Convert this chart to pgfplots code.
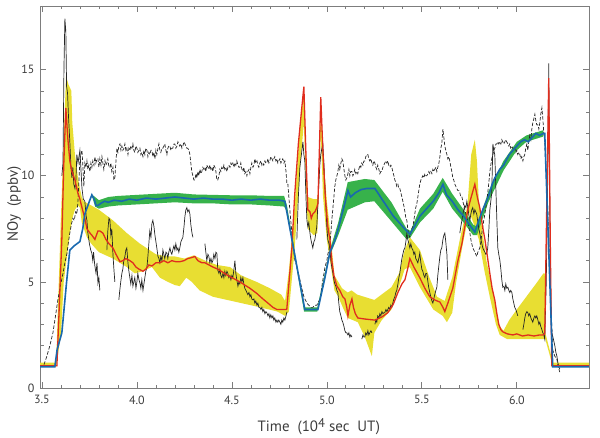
\documentclass[border=0pt]{standalone}
\usepackage{pgfplots}
\pgfplotsset{compat=1.18}
\usepgfplotslibrary{fillbetween}
\usepackage{fontspec}
\setmainfont{PT Sans}
\definecolor{redl}{RGB}{224,45,30}
\definecolor{bluel}{RGB}{25,105,175}
\definecolor{greenb}{RGB}{55,178,75}
\definecolor{yellowb}{RGB}{232,222,50}
\definecolor{axgray}{RGB}{125,125,125}
\definecolor{txtgray}{RGB}{60,60,60}
\begin{document}
\begin{tikzpicture}
\begin{axis}[
  scale only axis, width=549bp, height=382bp,
  xmin=3.49, xmax=6.38, ymin=0, ymax=18,
  axis line style={draw=axgray, line width=0.8bp},
  xtick={3.5,4,4.5,5,5.5,6}, minor x tick num=4,
  ytick={0,5,10,15}, minor y tick num=4,
  tick align=inside, major tick length=6bp, minor tick length=3.5bp,
  every tick/.style={axgray, line width=0.7bp},
  x tick label style={/pgf/number format/fixed, /pgf/number format/fixed zerofill, /pgf/number format/precision=1, yshift=-4bp},
  y tick label style={xshift=-2bp},
  /pgf/number format/assume math mode=true,
  tick label style={font=\fontsize{12}{14}\selectfont, text=txtgray},
  label style={font=\fontsize{15}{18}\selectfont, text=txtgray},
  xlabel={Time\ \ (10\raisebox{0.45ex}{\scalebox{0.85}{4}} sec\ \ UT)},
  ylabel={NOy\ \ (ppbv)},
  xlabel style={at={(axis description cs:0.508,-0.1126)}, anchor=base},
  ylabel style={at={(axis description cs:-0.047,0.482)}, anchor=center},
  unbounded coords=jump,
]
% yellow band
\addplot[draw=none, name path=yu, forget plot] coordinates {
(3.490,1.2)(3.575,1.2)(3.600,8.0)(3.627,14.7)(3.640,14.3)(3.655,14.0)(3.660,12.5)(3.674,11.0)(3.690,9.9)(3.700,9.4)(3.710,9.0)(3.720,8.8)(3.760,8.6)(3.800,8.4)(3.874,7.9)(3.947,7.3)(4.016,6.8)(4.050,6.6)(4.100,6.3)(4.160,6.2)(4.200,6.2)(4.250,6.1)(4.300,6.25)(4.360,6.0)(4.420,5.8)(4.490,5.7)(4.550,5.3)(4.630,5.0)(4.700,4.7)(4.760,4.4)(4.780,4.1)(4.800,5.5)(4.830,8.5)(4.860,12.5)(4.879,13.8)(4.890,11.0)(4.900,9.0)(4.930,8.9)(4.950,8.9)(4.960,10.0)(4.968,13.5)(4.980,11.0)(5.000,8.8)(5.016,7.5)(5.040,5.3)(5.080,4.7)(5.110,4.5)(5.130,4.6)(5.160,4.4)(5.250,4.15)(5.340,4.75)(5.380,5.4)(5.410,6.5)(5.437,7.1)(5.490,6.5)(5.540,5.2)(5.580,4.3)(5.620,4.1)(5.660,5.2)(5.700,7.0)(5.740,8.6)(5.760,11.0)(5.779,11.7)(5.790,10.7)(5.800,8.8)(5.820,7.3)(5.840,6.0)(5.870,4.75)(5.895,3.55)(5.910,2.9)(5.930,2.7)(5.960,3.2)(6.000,3.7)(6.050,4.3)(6.100,4.9)(6.140,5.4)(6.147,5.4)(6.150,2.6)(6.190,1.2)(6.380,1.2)};
\addplot[draw=none, name path=yl, forget plot] coordinates {
(3.490,1.0)(3.575,1.0)(3.600,2.5)(3.615,5.0)(3.647,7.3)(3.660,8.0)(3.674,8.4)(3.690,8.6)(3.700,8.5)(3.710,7.8)(3.737,7.1)(3.760,6.8)(3.800,6.4)(3.874,6.1)(3.947,5.7)(3.989,5.4)(4.030,5.5)(4.079,5.7)(4.121,5.2)(4.163,5.0)(4.200,4.85)(4.226,4.8)(4.260,5.2)(4.289,5.0)(4.330,4.6)(4.400,4.3)(4.450,4.2)(4.550,4.0)(4.650,3.8)(4.740,3.6)(4.780,3.4)(4.800,3.6)(4.830,6.5)(4.860,10.5)(4.879,12.5)(4.890,9.5)(4.900,7.5)(4.930,7.2)(4.950,7.3)(4.968,12.0)(4.980,9.0)(5.000,7.0)(5.020,5.8)(5.040,4.6)(5.060,4.3)(5.084,3.8)(5.110,3.3)(5.163,3.1)(5.200,2.4)(5.237,1.5)(5.250,2.6)(5.289,3.2)(5.340,3.7)(5.370,4.5)(5.410,5.6)(5.437,5.7)(5.490,4.75)(5.560,3.7)(5.610,3.4)(5.632,3.1)(5.660,3.55)(5.680,4.95)(5.716,6.8)(5.750,8.3)(5.779,7.6)(5.800,7.0)(5.830,5.5)(5.860,4.2)(5.890,3.0)(5.910,2.5)(5.950,2.3)(6.100,2.3)(6.150,2.3)(6.190,1.0)(6.380,1.0)};
\addplot[yellowb, forget plot] fill between[of=yu and yl];
% green band
\addplot[draw=none, name path=gu, forget plot] coordinates {
(3.765,9.1)(3.780,9.0)(3.800,8.85)(3.850,9.0)(3.900,9.05)(4.000,9.1)(4.100,9.15)(4.200,9.2)(4.300,9.12)(4.400,9.1)(4.500,9.08)(4.600,9.08)(4.700,9.05)(4.775,9.05)(4.790,8.6)(4.880,3.8)(4.950,3.8)(5.016,6.5)(5.060,7.8)(5.110,9.7)(5.200,9.85)(5.250,9.8)(5.340,8.75)(5.420,7.5)(5.440,7.4)(5.490,8.45)(5.560,9.15)(5.610,9.9)(5.660,9.15)(5.720,8.4)(5.770,7.7)(5.790,7.6)(5.850,9.25)(5.930,10.7)(6.000,11.6)(6.050,11.9)(6.140,12.15)};
\addplot[draw=none, name path=gl, forget plot] coordinates {
(3.765,9.0)(3.780,8.55)(3.800,8.45)(3.850,8.55)(3.900,8.6)(4.000,8.65)(4.100,8.7)(4.200,8.75)(4.300,8.7)(4.400,8.7)(4.500,8.65)(4.600,8.65)(4.700,8.6)(4.775,8.55)(4.790,8.3)(4.880,3.6)(4.950,3.6)(5.016,6.25)(5.060,7.2)(5.110,8.4)(5.200,8.75)(5.250,8.8)(5.340,7.85)(5.420,7.0)(5.440,7.1)(5.490,7.8)(5.560,8.45)(5.610,9.25)(5.660,8.45)(5.720,7.8)(5.770,7.2)(5.790,7.2)(5.850,8.75)(5.930,10.25)(6.000,11.2)(6.050,11.6)(6.140,11.85)};
\addplot[greenb, forget plot] fill between[of=gu and gl];
% black dashed
\addplot[black!85, line width=0.7bp, dash pattern=on 3.5bp off 1.8bp] coordinates {
(3.511,1.1)(3.526,1.5)(3.542,2.0)(3.558,2.6)(3.570,3.3)(3.584,4.15)(3.597,4.8)(3.611,5.4)(3.621,5.9)(3.632,6.35)(3.640,6.9)(3.647,7.3)(3.655,7.7)(3.663,8.0)(3.670,7.9)(3.678,8.3)(3.684,8.2)(3.689,8.7)(3.695,9.8)(3.700,10.8)(3.705,11.0)(3.711,11.2)(3.716,10.4)(3.721,9.5)(3.726,10.6)(3.732,10.4)(3.737,10.7)(3.742,10.3)(3.747,10.5)(3.753,10.2)(3.758,10.6)(3.763,10.4)(3.768,10.7)(3.774,10.5)(3.779,10.9)(3.784,10.6)(3.790,10.8)(3.795,10.8)(3.800,10.4)(3.805,10.8)(3.811,10.5)(3.816,10.9)(3.821,10.6)(3.826,10.3)(3.832,10.7)(3.837,10.5)(3.842,10.6)(3.847,10.8)(3.853,10.4)(3.858,10.4)(3.863,10.6)(3.868,10.2)(3.874,10.4)(3.879,9.8)(3.884,9.9)(3.890,10.7)(3.895,11.3)(3.900,11.1)(3.905,11.4)(3.911,11.5)(3.916,11.2)(3.921,11.4)(3.926,11.2)(3.932,11.3)(3.937,11.5)(3.942,11.2)(3.947,11.3)(3.953,11.0)(3.958,11.3)(3.963,11.2)(3.968,11.4)(3.974,11.3)(3.979,11.5)(3.984,11.2)(3.989,11.1)(3.995,11.4)(4.000,11.3)(4.005,11.1)(4.011,11.2)(4.016,11.3)(4.021,11.0)(4.026,11.1)(4.032,10.9)(4.037,11.2)(4.042,11.0)(4.047,11.3)(4.053,11.2)(4.058,10.9)(4.063,11.1)(4.068,11.0)(4.074,11.2)(4.079,11.2)(4.084,10.9)(4.090,11.1)(4.095,10.8)(4.100,11.2)(4.105,11.0)(4.111,11.3)(4.116,11.5)(4.121,11.2)(4.126,11.1)(4.132,11.3)(4.137,11.3)(4.142,11.4)(4.147,11.5)(4.153,11.2)(4.158,11.0)(4.163,11.3)(4.168,11.4)(4.174,11.4)(4.179,11.2)(4.184,11.3)(4.189,11.3)(4.195,11.5)(4.200,11.5)(4.205,11.3)(4.211,11.4)(4.216,11.6)(4.221,11.5)(4.226,11.4)(4.232,11.5)(4.237,11.3)(4.242,11.4)(4.248,11.6)(4.253,11.5)(4.258,11.4)(4.263,11.3)(4.268,11.3)(4.274,11.2)(4.279,11.0)(4.284,10.6)(4.289,10.2)(4.295,10.0)(4.300,9.8)(4.305,9.8)(4.311,10.1)(4.316,9.9)(4.321,10.2)(4.326,10.0)(4.332,10.3)(4.337,10.1)(4.342,10.2)(4.347,10.4)(4.353,10.3)(4.358,10.4)(4.363,10.2)(4.368,10.5)(4.374,10.4)(4.379,10.3)(4.384,10.5)(4.390,10.3)(4.395,10.4)(4.400,10.2)(4.405,10.5)(4.411,10.4)(4.416,10.2)(4.421,9.8)(4.426,9.8)(4.432,10.0)(4.437,10.3)(4.442,10.2)(4.447,10.4)(4.453,10.3)(4.458,10.5)(4.463,10.3)(4.468,10.4)(4.474,10.2)(4.479,10.4)(4.484,10.5)(4.490,10.4)(4.495,10.6)(4.500,10.5)(4.505,10.6)(4.511,10.4)(4.516,10.6)(4.521,10.5)(4.526,10.7)(4.532,10.5)(4.537,10.4)(4.542,10.4)(4.547,10.6)(4.553,10.3)(4.558,10.2)(4.563,10.4)(4.568,10.1)(4.574,10.2)(4.579,10.0)(4.584,10.2)(4.590,10.3)(4.595,10.1)(4.600,10.4)(4.605,10.6)(4.611,10.4)(4.616,10.5)(4.621,10.8)(4.626,10.6)(4.632,10.7)(4.637,10.5)(4.642,10.4)(4.647,10.6)(4.653,10.7)(4.658,10.5)(4.663,10.6)(4.668,10.5)(4.674,10.7)(4.679,10.6)(4.684,10.6)(4.690,10.8)(4.695,10.6)(4.700,10.7)(4.705,10.9)(4.711,10.8)(4.716,10.7)(4.721,10.8)(4.726,10.9)(4.732,10.7)(4.737,10.8)(4.742,10.6)(4.747,10.7)(4.753,10.8)(4.758,10.6)(4.763,10.7)(4.768,10.8)(4.774,10.6)(4.779,10.7)(4.785,10.2)(4.790,9.6)(4.795,9.6)(4.800,9.0)(4.805,8.4)(4.811,7.8)(4.816,7.3)(4.821,6.8)(4.826,6.4)(4.832,6.0)(4.837,5.9)(4.842,5.7)(4.847,5.5)(4.853,5.3)(4.858,5.1)(4.863,4.9)(4.868,4.7)(4.874,4.5)(4.879,4.3)(4.884,4.2)(4.890,4.1)(4.895,4.0)(4.905,3.9)(4.916,3.8)(4.926,3.8)(4.937,3.9)(4.947,3.9)(4.953,4.0)(4.958,4.1)(4.963,4.15)(4.968,4.4)(4.974,4.8)(4.979,5.1)(4.985,5.4)(4.990,5.7)(5.000,6.0)(5.005,6.3)(5.011,6.5)(5.016,6.8)(5.021,7.3)(5.026,7.9)(5.032,8.5)(5.037,9.0)(5.042,9.5)(5.047,9.8)(5.053,10.0)(5.058,10.2)(5.063,10.5)(5.068,10.3)(5.074,10.6)(5.079,10.8)(5.084,10.7)(5.090,10.3)(5.095,10.0)(5.100,9.8)(5.105,9.9)(5.111,10.1)(5.116,10.3)(5.121,10.0)(5.126,10.2)(5.132,10.2)(5.137,10.0)(5.142,10.1)(5.147,10.3)(5.153,10.1)(5.158,10.2)(5.163,10.1)(5.168,10.3)(5.174,10.5)(5.179,10.4)(5.184,10.6)(5.190,10.5)(5.195,10.7)(5.200,10.7)(5.205,10.9)(5.211,11.0)(5.216,11.0)(5.221,10.8)(5.226,10.7)(5.232,10.8)(5.237,10.6)(5.242,10.5)(5.247,10.7)(5.253,10.6)(5.258,10.4)(5.263,10.3)(5.268,10.5)(5.274,10.3)(5.279,10.1)(5.284,10.2)(5.289,10.2)(5.295,10.4)(5.300,10.5)(5.305,10.6)(5.311,10.7)(5.316,10.6)(5.321,10.7)(5.326,10.5)(5.332,10.4)(5.337,10.5)(5.342,10.4)(5.347,10.2)(5.353,10.0)(5.358,9.8)(5.363,9.7)(5.368,9.5)(5.374,9.6)(5.379,9.4)(5.384,9.4)(5.390,9.2)(5.395,9.0)(5.400,8.8)(5.405,8.6)(5.411,8.3)(5.416,8.0)(5.421,7.9)(5.426,7.5)(5.432,7.2)(5.437,7.1)(5.442,7.3)(5.447,7.5)(5.453,7.6)(5.458,7.9)(5.463,8.2)(5.468,8.5)(5.474,8.7)(5.479,9.0)(5.484,9.3)(5.489,9.6)(5.495,9.8)(5.500,9.9)(5.505,10.0)(5.511,9.9)(5.516,10.1)(5.521,10.0)(5.526,10.0)(5.532,10.1)(5.537,10.2)(5.542,10.1)(5.547,10.2)(5.553,10.1)(5.558,10.3)(5.563,10.2)(5.568,10.3)(5.574,10.4)(5.579,10.2)(5.584,10.4)(5.590,10.6)(5.595,10.9)(5.600,11.3)(5.605,11.5)(5.611,12.2)(5.616,11.8)(5.621,11.4)(5.626,11.2)(5.632,11.0)(5.637,10.8)(5.642,10.9)(5.647,10.7)(5.653,10.4)(5.658,10.2)(5.663,9.9)(5.668,9.8)(5.674,9.6)(5.679,9.5)(5.684,9.4)(5.690,9.3)(5.695,9.3)(5.700,9.2)(5.705,9.0)(5.711,9.0)(5.716,8.8)(5.721,8.6)(5.726,8.4)(5.732,8.2)(5.737,8.0)(5.742,7.9)(5.747,7.6)(5.753,7.3)(5.758,7.0)(5.763,6.8)(5.768,6.6)(5.774,6.5)(5.779,6.4)(5.784,6.3)(5.789,6.2)(5.795,6.4)(5.800,6.5)(5.805,6.6)(5.811,6.9)(5.816,7.3)(5.821,7.6)(5.826,7.9)(5.832,8.2)(5.837,8.5)(5.842,8.8)(5.847,9.2)(5.853,9.7)(5.858,10.2)(5.863,10.5)(5.868,10.8)(5.874,11.0)(5.879,11.2)(5.884,11.3)(5.890,11.5)(5.895,11.5)(5.900,11.6)(5.905,11.5)(5.911,11.6)(5.916,11.5)(5.921,11.7)(5.926,11.6)(5.932,11.5)(5.937,11.6)(5.942,11.7)(5.947,11.6)(5.953,11.5)(5.958,11.4)(5.963,11.5)(5.968,11.3)(5.974,11.4)(5.979,11.3)(5.984,11.2)(5.989,11.3)(5.995,11.1)(6.000,11.2)(6.005,11.0)(6.011,11.1)(6.016,11.0)(6.021,10.8)(6.026,10.9)(6.032,10.7)(6.037,10.9)(6.042,11.0)(6.047,11.3)(6.053,11.5)(6.058,11.2)(6.063,11.6)(6.068,11.9)(6.074,11.7)(6.079,12.2)(6.084,12.5)(6.090,12.7)(6.095,12.9)(6.100,12.6)(6.105,12.4)(6.111,12.4)(6.116,12.2)(6.121,12.5)(6.126,12.9)(6.132,13.2)(6.137,12.7)(6.142,12.0)(6.147,11.6)(6.152,10.5)(6.158,9.5)(6.163,8.5)(6.168,7.0)(6.174,5.4)(6.179,4.0)(6.184,2.9)(6.189,1.8)(6.200,1.5)(6.211,1.35)(6.218,1.0)(6.226,0.75)};
% black solid
\addplot[black!85, line width=0.7bp] coordinates {
(3.605,10.0)(3.611,10.6)(3.616,15.0)(3.621,17.4)(3.626,16.8)(3.630,14.2)(3.635,13.9)(3.640,12.8)(3.647,11.6)(3.653,10.4)(3.658,9.9)(3.663,10.4)(3.668,9.6)(3.674,9.4)(3.679,9.8)(3.684,11.0)(3.690,10.6)(3.700,11.2)(3.705,10.4)(3.711,9.4)(3.718,8.9)(3.726,8.8)(3.733,8.1)(3.737,7.9)(3.742,7.3)(3.750,6.8)(3.757,6.5)(3.763,6.35)(3.768,6.0)(3.772,6.4)(3.778,5.8)(3.785,5.4)(3.790,5.9)(3.795,4.95)(3.800,5.2)(3.805,4.6)
(3.810,nan)
(3.842,6.5)(3.847,7.4)(3.853,8.0)(3.858,7.9)(3.863,7.2)(3.868,7.5)(3.874,6.3)(3.879,5.6)(3.884,5.0)
(3.890,nan)
(3.905,4.15)(3.910,4.6)(3.915,5.0)(3.921,5.4)(3.926,5.6)(3.931,6.0)(3.937,6.2)(3.942,6.5)(3.947,6.6)(3.953,5.9)(3.958,5.5)(3.963,5.2)(3.968,4.9)(3.974,5.3)(3.979,4.8)(3.984,5.0)(3.989,5.2)(3.995,4.7)(4.000,5.0)(4.005,5.4)(4.011,5.1)(4.016,4.95)(4.021,4.7)(4.026,5.1)(4.032,4.6)(4.037,4.9)(4.042,5.2)(4.047,5.5)(4.053,5.7)(4.058,6.2)(4.063,6.8)(4.068,7.4)(4.074,7.1)(4.079,7.75)(4.084,7.9)(4.090,7.6)(4.095,7.2)(4.100,6.9)(4.105,6.6)(4.111,6.2)(4.116,6.1)(4.121,5.9)(4.126,6.2)(4.132,6.0)(4.137,6.5)(4.142,6.3)(4.147,6.1)(4.153,6.4)(4.158,6.35)(4.163,6.1)(4.168,6.4)(4.174,6.6)(4.179,6.4)(4.184,6.3)(4.189,6.5)(4.195,6.7)(4.200,6.5)(4.205,6.8)(4.211,6.5)(4.216,6.6)(4.221,6.4)(4.226,6.6)(4.232,6.9)(4.237,7.0)(4.242,7.1)(4.248,7.6)(4.253,8.1)(4.258,8.4)(4.263,8.5)(4.268,8.3)(4.274,8.4)(4.279,8.2)(4.284,7.7)(4.290,7.3)(4.295,7.1)
(4.300,nan)
(4.358,6.8)(4.363,6.4)(4.368,6.0)(4.374,6.3)(4.379,6.2)(4.384,5.9)(4.390,6.1)(4.395,5.9)(4.400,6.0)(4.405,6.3)(4.411,6.1)(4.416,6.4)(4.421,6.35)(4.426,5.55)(4.432,5.4)(4.437,5.6)(4.442,5.3)(4.447,5.2)(4.453,5.4)(4.458,5.2)(4.463,5.5)(4.468,5.3)(4.474,5.5)(4.479,5.4)(4.484,5.2)(4.490,5.3)(4.495,5.1)(4.500,5.3)(4.505,5.2)(4.511,5.6)(4.516,6.0)(4.521,5.4)(4.526,5.1)(4.532,4.8)(4.537,5.0)(4.542,4.9)(4.547,5.2)(4.553,5.0)(4.558,5.2)(4.563,4.9)(4.568,4.7)(4.574,4.6)(4.579,4.5)(4.584,4.4)(4.590,4.5)(4.595,4.3)(4.600,4.4)(4.605,4.2)(4.611,4.15)(4.616,4.2)(4.621,4.0)(4.626,4.1)(4.632,3.9)(4.637,4.0)(4.642,3.8)(4.647,3.8)(4.653,3.7)(4.658,3.8)(4.663,3.6)(4.668,3.7)(4.674,3.5)(4.679,3.6)(4.684,3.55)(4.690,3.4)(4.695,3.5)(4.700,3.3)(4.705,3.45)(4.711,3.3)(4.716,3.4)(4.721,3.2)(4.726,3.3)(4.732,3.1)(4.737,3.2)(4.742,3.1)(4.747,3.2)(4.753,3.1)(4.758,3.0)(4.763,3.2)(4.768,3.1)(4.774,3.3)(4.779,3.2)(4.785,3.4)(4.790,3.6)
(4.800,nan)
(4.842,7.0)(4.850,9.0)(4.858,10.4)(4.866,11.0)(4.874,11.6)(4.879,11.0)(4.884,10.7)(4.890,9.0)(4.895,7.9)(4.900,7.6)(4.905,7.8)(4.911,7.3)(4.916,7.0)(4.921,6.8)(4.926,6.6)(4.932,6.9)(4.937,7.0)(4.942,7.3)(4.947,7.6)(4.953,8.7)(4.958,9.6)(4.963,10.5)(4.968,11.0)(4.974,11.3)(4.979,11.5)(4.985,10.5)(4.990,9.5)(4.995,8.5)(5.000,7.6)(5.005,7.0)(5.011,6.8)(5.016,6.6)(5.021,6.0)(5.026,5.7)(5.032,5.4)(5.037,5.1)(5.042,4.9)(5.047,4.8)(5.053,4.6)(5.058,4.5)(5.063,4.0)(5.068,3.6)(5.074,3.4)(5.079,3.2)(5.084,3.1)(5.090,2.9)(5.095,2.7)(5.100,2.6)(5.105,2.6)(5.111,2.5)(5.116,2.6)(5.121,2.4)(5.126,2.5)(5.132,2.4)
(5.150,nan)
(5.184,2.3)(5.190,2.5)(5.195,2.4)(5.200,2.4)(5.205,2.6)(5.211,2.5)(5.216,2.7)(5.221,2.5)(5.226,2.6)(5.232,2.7)(5.237,2.6)
(5.245,nan)
(5.253,3.0)(5.258,3.2)(5.263,3.1)(5.268,3.4)(5.274,3.3)(5.279,3.5)(5.284,3.4)(5.290,3.6)(5.295,3.5)(5.300,3.55)(5.305,3.55)(5.311,3.7)(5.316,3.6)(5.321,3.7)(5.326,3.8)(5.332,3.7)(5.337,3.9)(5.342,3.8)(5.347,4.0)(5.353,4.2)(5.358,4.3)(5.363,4.5)(5.368,4.6)(5.374,4.9)(5.379,5.2)(5.384,5.4)(5.390,5.8)(5.395,6.1)(5.400,6.3)(5.405,6.5)(5.411,6.6)(5.416,6.9)(5.421,7.3)(5.426,7.0)(5.432,6.8)(5.437,6.6)(5.442,6.8)(5.447,6.6)(5.453,6.5)(5.458,6.3)(5.463,6.4)(5.468,6.1)(5.474,6.0)(5.479,5.9)(5.484,6.1)(5.489,6.35)(5.495,5.9)(5.500,5.6)(5.505,5.5)(5.511,5.3)(5.516,5.2)(5.521,5.4)(5.526,5.4)(5.532,5.0)(5.537,4.7)(5.542,4.5)(5.547,4.3)(5.553,4.1)(5.558,4.0)(5.563,4.2)(5.568,4.4)(5.574,4.6)(5.579,4.75)(5.584,5.3)(5.590,5.8)(5.595,6.2)(5.600,6.5)(5.605,6.6)(5.611,7.0)(5.616,7.2)(5.621,7.3)(5.626,6.9)(5.632,6.3)(5.637,5.1)
(5.650,nan)
(5.700,7.3)(5.705,7.6)(5.711,7.9)(5.716,8.2)(5.721,8.4)(5.726,8.6)(5.732,8.5)(5.737,8.8)(5.742,8.5)(5.747,8.2)(5.753,7.9)(5.758,8.2)(5.763,8.4)(5.768,8.5)(5.774,8.2)(5.779,8.4)(5.784,8.3)(5.789,8.2)(5.795,7.8)(5.800,7.5)(5.805,7.3)(5.811,7.0)(5.816,6.8)(5.821,6.6)(5.826,6.5)(5.832,6.4)(5.837,6.3)(5.842,6.35)(5.847,6.6)(5.853,7.5)(5.858,8.4)(5.863,8.8)(5.868,9.2)(5.874,11.5)(5.879,11.2)(5.884,11.0)(5.890,9.3)(5.895,7.9)(5.900,6.6)(5.905,6.3)(5.911,6.0)(5.916,5.6)(5.921,5.1)(5.926,4.75)(5.932,4.8)(5.937,4.6)(5.942,4.9)(5.947,4.7)(5.953,4.75)(5.958,4.6)(5.963,4.5)(5.968,4.6)(5.974,4.5)(5.979,4.2)(5.984,4.0)(5.989,3.8)(5.995,3.7)(6.000,3.55)(6.005,3.4)
(6.015,nan)
(6.032,2.75)(6.037,3.0)(6.042,3.3)(6.047,3.5)(6.053,3.6)(6.058,3.55)(6.063,3.4)(6.068,3.5)(6.074,3.3)(6.079,3.2)(6.084,3.1)(6.090,3.3)(6.095,3.4)(6.100,3.3)(6.105,3.4)(6.111,3.2)(6.116,3.0)(6.121,3.1)(6.126,2.9)(6.132,2.75)(6.137,2.6)(6.142,2.5)(6.147,2.3)(6.155,5.0)(6.163,10.0)(6.168,15.3)(6.172,10.0)(6.176,6.0)(6.180,3.5)(6.184,2.6)(6.190,2.4)(6.195,2.2)(6.200,2.0)(6.205,1.7)(6.211,1.5)(6.216,1.2)(6.221,1.0)(6.226,0.9)};
% red line
\addplot[redl, line width=1.3bp] coordinates {
(3.490,1.05)(3.579,1.05)(3.590,3.5)(3.605,7.0)(3.615,10.5)(3.626,13.2)(3.636,11.8)(3.647,10.7)(3.658,10.2)(3.674,9.8)(3.689,9.2)(3.700,8.9)(3.711,8.5)(3.726,8.0)(3.737,7.5)(3.753,7.3)(3.763,7.2)(3.779,7.0)(3.787,7.2)(3.795,7.4)(3.805,7.4)(3.821,7.3)(3.837,7.0)(3.853,6.8)(3.874,6.6)(3.890,6.3)(3.911,5.95)(3.926,6.0)(3.942,6.1)(3.963,6.0)(3.979,5.9)(3.995,5.7)(4.011,5.6)(4.032,5.5)(4.047,5.6)(4.063,5.8)(4.079,5.75)(4.100,5.9)(4.121,5.9)(4.142,6.0)(4.163,5.9)(4.184,6.0)(4.205,5.95)(4.226,5.95)(4.248,6.0)(4.268,6.1)(4.290,6.15)(4.305,6.2)(4.321,6.0)(4.342,5.9)(4.358,5.9)(4.379,5.8)(4.400,5.7)(4.426,5.6)(4.453,5.45)(4.479,5.3)(4.511,5.15)(4.542,5.0)(4.568,4.85)(4.595,4.7)(4.632,4.45)(4.663,4.2)(4.690,4.0)(4.716,3.8)(4.737,3.7)(4.789,3.7)(4.803,5.2)(4.816,6.6)(4.830,9.0)(4.850,11.5)(4.868,13.2)(4.879,14.2)(4.890,11.0)(4.900,8.4)(4.911,8.3)(4.918,8.0)(4.926,8.2)(4.937,8.3)(4.947,8.5)(4.953,8.7)(4.960,11.0)(4.968,13.7)(4.980,11.0)(4.992,9.0)(5.005,7.6)(5.016,7.0)(5.026,6.0)(5.037,5.3)(5.053,4.8)(5.068,4.6)(5.084,4.3)(5.095,4.2)(5.105,3.8)(5.111,3.4)(5.121,3.9)(5.132,4.2)(5.140,3.8)(5.150,3.5)(5.163,3.3)(5.200,3.25)(5.253,3.2)(5.290,3.35)(5.321,3.55)(5.350,3.95)(5.374,4.5)(5.395,4.9)(5.411,5.1)(5.425,5.6)(5.437,6.1)(5.458,5.7)(5.489,5.2)(5.516,4.7)(5.542,4.3)(5.568,4.15)(5.595,4.05)(5.611,3.8)(5.621,3.6)(5.637,4.0)(5.663,4.7)(5.690,6.0)(5.711,6.8)(5.730,7.8)(5.742,8.4)(5.760,9.0)(5.779,9.6)(5.792,9.0)(5.805,8.5)(5.820,7.6)(5.832,7.0)(5.845,6.2)(5.858,5.4)(5.870,4.7)(5.884,4.15)(5.895,3.5)(5.905,3.0)(5.916,2.75)(5.926,2.65)(5.950,2.55)(5.979,2.5)(6.000,2.55)(6.030,2.45)(6.060,2.5)(6.090,2.45)(6.120,2.5)(6.137,2.5)(6.147,2.55)(6.160,10.0)(6.168,14.6)(6.176,7.0)(6.184,1.05)(6.379,1.05)};
% blue line
\addplot[bluel, line width=1.6bp] coordinates {
(3.490,1.0)(3.568,1.0)(3.580,1.8)(3.605,2.6)(3.630,5.0)(3.647,6.5)(3.670,6.7)(3.700,6.9)(3.715,7.5)(3.726,8.2)(3.750,8.8)(3.763,9.1)(3.775,8.9)(3.785,8.6)(3.795,8.6)(3.810,8.7)(3.830,8.8)(3.850,8.75)(3.880,8.85)(3.920,8.8)(3.960,8.9)(4.000,8.85)(4.050,8.95)(4.100,8.9)(4.150,8.95)(4.200,9.0)(4.250,8.95)(4.300,8.9)(4.350,8.95)(4.400,8.9)(4.450,8.9)(4.500,8.85)(4.550,8.9)(4.600,8.85)(4.650,8.9)(4.700,8.85)(4.750,8.85)(4.779,8.8)(4.884,3.7)(4.953,3.7)(4.990,5.2)(5.016,6.4)(5.040,6.9)(5.060,7.5)(5.080,8.2)(5.095,8.7)(5.111,9.3)(5.125,9.0)(5.150,9.2)(5.180,9.35)(5.210,9.4)(5.253,9.4)(5.290,8.9)(5.320,8.5)(5.350,8.1)(5.380,7.8)(5.410,7.5)(5.437,7.25)(5.460,7.6)(5.490,8.1)(5.520,8.4)(5.560,8.8)(5.590,9.2)(5.611,9.6)(5.630,9.1)(5.660,8.8)(5.690,8.4)(5.720,8.1)(5.750,7.7)(5.779,7.35)(5.800,7.9)(5.825,8.5)(5.850,9.0)(5.870,9.6)(5.884,9.9)(5.910,10.3)(5.930,10.5)(5.960,11.0)(5.980,11.2)(6.000,11.4)(6.020,11.6)(6.040,11.7)(6.060,11.6)(6.080,11.8)(6.100,12.0)(6.120,11.9)(6.140,12.0)(6.147,12.0)(6.189,1.0)(6.379,1.0)};
\end{axis}
\path ([shift={(-40bp,-41bp)}]current axis.south west) rectangle ([shift={(11bp,6bp)}]current axis.north east);
\end{tikzpicture}
\end{document}
